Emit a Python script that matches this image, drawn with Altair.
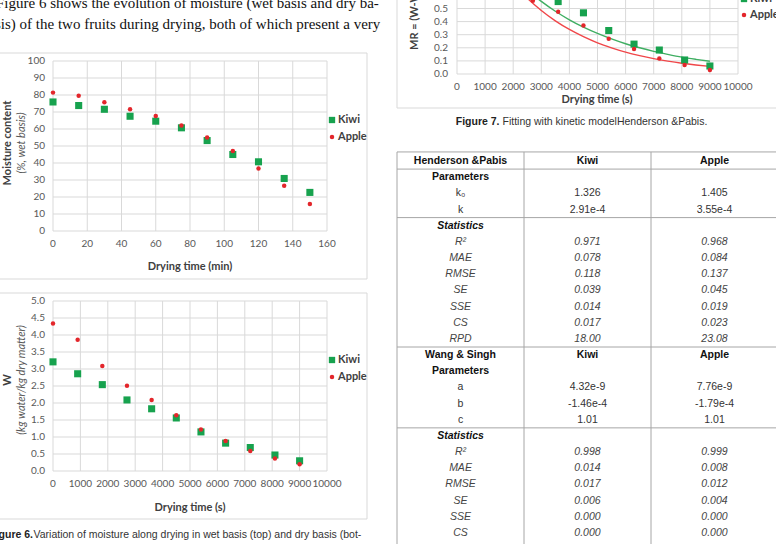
import altair as alt
import pandas as pd

# ---------------- data ----------------
para_lines = ["Figure 6 shows the evolution of moisture (wet basis and dry ba-",
              "sis) of the two fruits during drying, both of which present a very"]
fruits = ["Kiwi", "Apple"]

# Figure 6 (top): moisture, wet basis (%)
t_min = [0, 15, 30, 45, 60, 75, 90, 105, 120, 135, 150]
kiwi_wet = [75.9, 73.8, 71.6, 67.5, 64.6, 60.7, 53.2, 45.0, 40.7, 30.9, 22.7]
apple_wet = [81.4, 79.5, 75.7, 71.6, 67.7, 62.0, 55.0, 47.0, 36.8, 26.6, 15.9]

# Figure 6 (bottom): moisture, dry basis
t_s = [0, 900, 1800, 2700, 3600, 4500, 5400, 6300, 7200, 8100, 9000]
kiwi_dry = [3.21, 2.86, 2.54, 2.09, 1.83, 1.56, 1.15, 0.82, 0.69, 0.47, 0.30]
apple_dry = [4.34, 3.86, 3.09, 2.51, 2.09, 1.64, 1.22, 0.88, 0.59, 0.37, 0.20]

# Figure 7: moisture ratio + Henderson & Pabis fitted curves
kiwi_mr = [1.0, 0.89, 0.78, 0.64, 0.553, 0.467, 0.332, 0.228, 0.183, 0.107, 0.061]
apple_mr = [1.0, 0.88, 0.70, 0.56, 0.475, 0.371, 0.269, 0.190, 0.119, 0.069, 0.030]
t_fit = [0, 500, 1000, 1500, 2000, 2500, 3000, 3500, 4000, 4500, 5000,
         5500, 6000, 6500, 7000, 7500, 8000, 8500, 9000]
kiwi_fit = [1.326, 1.147, 0.991, 0.857, 0.741, 0.641, 0.554, 0.479, 0.414, 0.358,
            0.310, 0.268, 0.231, 0.200, 0.173, 0.150, 0.129, 0.112, 0.097]
apple_fit = [1.405, 1.177, 0.985, 0.825, 0.691, 0.579, 0.485, 0.406, 0.340, 0.285,
             0.238, 0.200, 0.167, 0.140, 0.117, 0.098, 0.082, 0.069, 0.058]

# axis ticks / labels
f6a_xticks = [0, 20, 40, 60, 80, 100, 120, 140, 160]
f6a_yticks = [0, 10, 20, 30, 40, 50, 60, 70, 80, 90, 100]
f6a_ylabels = ["0", "10", "20", "30", "40", "50", "60", "70", "80", "90", "100"]
s_xticks = [0, 1000, 2000, 3000, 4000, 5000, 6000, 7000, 8000, 9000, 10000]
s_xlabels = ["0", "1000", "2000", "3000", "4000", "5000", "6000", "7000", "8000", "9000", "10000"]
f6b_yticks = [0.0, 0.5, 1.0, 1.5, 2.0, 2.5, 3.0, 3.5, 4.0, 4.5, 5.0]
f6b_ylabels = ["0.0", "0.5", "1.0", "1.5", "2.0", "2.5", "3.0", "3.5", "4.0", "4.5", "5.0"]
f7_yticks = [0.0, 0.1, 0.2, 0.3, 0.4, 0.5, 0.6, 0.7, 0.8, 0.9, 1.0]
f7_ylabels = ["0.0", "0.1", "0.2", "0.3", "0.4", "0.5", "0.6", "0.7", "0.8", "0.9", "1.0"]

# Table
hp_title = "Henderson &Pabis"
ws_title = "Wang & Singh"
param_head = "Parameters"
stat_head = "Statistics"
hp_param_names = ["k\u2080", "k"]
hp_param_kiwi = ["1.326", "2.91e-4"]
hp_param_apple = ["1.405", "3.55e-4"]
stat_names = ["R\u00b2", "MAE", "RMSE", "SE", "SSE", "CS", "RPD"]
hp_stat_kiwi = ["0.971", "0.078", "0.118", "0.039", "0.014", "0.017", "18.00"]
hp_stat_apple = ["0.968", "0.084", "0.137", "0.045", "0.019", "0.023", "23.08"]
ws_param_names = ["a", "b", "c"]
ws_param_kiwi = ["4.32e-9", "-1.46e-4", "1.01"]
ws_param_apple = ["7.76e-9", "-1.79e-4", "1.01"]
ws_stat_kiwi = ["0.998", "0.014", "0.017", "0.006", "0.000", "0.000"]
ws_stat_apple = ["0.999", "0.008", "0.012", "0.004", "0.000", "0.000"]

# ---------------- style ----------------
KIWI_C = "#17A24E"
APPLE_C = "#E3262B"
KIWI_LINE = "#3FAE62"
APPLE_LINE = "#F04649"
GRID = "#D9D9D9"
BORDER = "#D9D9D9"
LBL = "#595959"
TTL = "#404040"
CF = "Lato"
SERIF = "Liberation Serif"
SANS = "Liberation Sans"


def one(**kw):
    return alt.Data(values=[dict(kw) if kw else {"k": 1}])


def vrect(x, x2, y, y2, **kw):
    return alt.Chart(one()).mark_rect(**kw).encode(
        x=alt.value(x), x2=alt.value(x2), y=alt.value(y), y2=alt.value(y2))


def vtext(txt, x, y, **kw):
    return alt.Chart(one(t=txt)).mark_text(clip=True, **kw).encode(
        x=alt.value(x), y=alt.value(y), text="t:N")


def vpoint(kind, x, y, color, size):
    c = alt.Chart(one())
    m = c.mark_square(color=color, size=size, opacity=1) if kind == "square" else \
        c.mark_circle(color=color, size=size, opacity=1)
    return m.encode(x=alt.value(x), y=alt.value(y))


def sc(dom, rng):
    return alt.Scale(domain=dom, range=rng, nice=False, zero=False)


def excel_panel(P):
    xs, ys = sc(P["xdom"], P["xr"]), sc(P["ydom"], P["yr"])
    X = lambda f: alt.X(f, scale=xs, axis=None)
    Y = lambda f: alt.Y(f, scale=ys, axis=None)
    L = [vrect(*P["border"], fill="white", fillOpacity=0, stroke=BORDER, strokeWidth=1)]
    vg = pd.DataFrame({"v": P["xticks"], "a": P["ydom"][0], "b": P["ydom"][1]})
    L.append(alt.Chart(vg).mark_rule(color=GRID, strokeWidth=1, clip=True).encode(
        x=X("v:Q"), y=Y("a:Q"), y2="b:Q"))
    hg = pd.DataFrame({"v": P["yticks"], "a": P["xdom"][0], "b": P["xdom"][1]})
    L.append(alt.Chart(hg).mark_rule(color=GRID, strokeWidth=1, clip=True).encode(
        y=Y("v:Q"), x=X("a:Q"), x2="b:Q"))
    if "fit" in P:
        tf, kf, af = P["fit"]
        fdf = pd.DataFrame({"t": tf * 2, "v": kf + af,
                            "Fruit": [fruits[0]] * len(tf) + [fruits[1]] * len(tf)})
        for fr, col in ((fruits[1], APPLE_LINE), (fruits[0], KIWI_LINE)):
            L.append(alt.Chart(fdf).transform_filter(alt.datum.Fruit == fr).mark_line(
                color=col, strokeWidth=1.4, clip=True, interpolate="monotone").encode(
                x=X("t:Q"), y=Y("v:Q")))
    xv, kv, av = P["series"]
    df = pd.DataFrame({"t": xv * 2, "v": kv + av,
                       "Fruit": [fruits[0]] * len(xv) + [fruits[1]] * len(xv)})
    L.append(alt.Chart(df).transform_filter(alt.datum.Fruit == fruits[0]).mark_square(
        color=KIWI_C, size=50, opacity=1, clip=True).encode(x=X("t:Q"), y=Y("v:Q")))
    L.append(alt.Chart(df).transform_filter(alt.datum.Fruit == fruits[1]).mark_circle(
        color=APPLE_C, size=20, opacity=1, clip=True).encode(x=X("t:Q"), y=Y("v:Q")))
    # tick labels
    xl = pd.DataFrame({"v": P["xticks"], "lab": P["xlabels"], "a": P["ydom"][0]})
    L.append(alt.Chart(xl).mark_text(font=CF, fontSize=10, color=LBL, dy=13, clip=True,
                                     baseline="middle", align="center").encode(
        x=X("v:Q"), y=Y("a:Q"), text="lab:N"))
    yl = pd.DataFrame({"v": P["yticks"], "lab": P["ylabels"], "a": P["xdom"][0]})
    L.append(alt.Chart(yl).mark_text(font=CF, fontSize=10, color=LBL, dx=P["ydx"], clip=True,
                                     baseline="middle", align="right").encode(
        x=X("a:Q"), y=Y("v:Q"), text="lab:N"))
    # axis titles
    tx, ty = P["xtitle_pos"]
    L.append(vtext(P["xtitle"], tx, ty, align="center", baseline="middle", font=CF,
                   fontSize=11, fontWeight="bold", color=TTL))
    for (txt, x, y, weight, style, color, align) in P["ytitles"]:
        L.append(vtext(txt, x, y, angle=270, align=align, baseline="middle", font=CF,
                       fontSize=11, fontWeight=weight, fontStyle=style, color=color))
    # legend
    lx, ly1, ly2 = P["legend"]
    L.append(vpoint("square", lx, ly1, KIWI_C, 40))
    L.append(vpoint("circle", lx, ly2, APPLE_C, 20))
    for name, ly in ((fruits[0], ly1), (fruits[1], ly2)):
        L.append(vtext(name, lx + 6, ly, align="left", baseline="middle", font=CF,
                       fontSize=11, fontWeight="bold", color=TTL))
    return L


layers = []

# ---- paragraph text (top left)
layers.append(vtext(para_lines[0], -4, 8, align="left", baseline="alphabetic",
                    font=SERIF, fontSize=15, color="#111111"))
layers.append(vtext(para_lines[1], -5, 29, align="left", baseline="alphabetic",
                    font=SERIF, fontSize=15, color="#111111"))

# ---- Figure 6 top
layers += excel_panel(dict(
    xdom=[0, 160], xr=[53, 327], ydom=[0, 100], yr=[231, 61],
    xticks=f6a_xticks, xlabels=[str(v) for v in f6a_xticks],
    yticks=f6a_yticks, ylabels=f6a_ylabels, ydx=-8,
    series=(t_min, kiwi_wet, apple_wet),
    border=(-2, 367, 53, 279),
    xtitle="Drying time (min)", xtitle_pos=(190, 267),
    ytitles=[("Moisture content", 7.5, 143, "bold", "normal", TTL, "center"),
             ("(%, wet basis)", 22, 143, "normal", "italic", LBL, "center")],
    legend=(332, 120, 137)))

# ---- Figure 6 bottom
layers += excel_panel(dict(
    xdom=[0, 10000], xr=[53, 327], ydom=[0, 5], yr=[471, 301],
    xticks=s_xticks, xlabels=s_xlabels,
    yticks=f6b_yticks, ylabels=f6b_ylabels, ydx=-8,
    series=(t_s, kiwi_dry, apple_dry),
    border=(-2, 367, 293, 519),
    xtitle="Drying time (s)", xtitle_pos=(190, 508),
    ytitles=[("W", 7.5, 380, "bold", "normal", TTL, "center"),
             ("(kg water/kg dry matter)", 22, 380, "normal", "italic", LBL, "center")],
    legend=(332, 360, 377)))

# ---- Figure 7 (partially visible, top right)
layers += excel_panel(dict(
    xdom=[0, 10000], xr=[457, 738], ydom=[0, 1], yr=[74, -57],
    xticks=s_xticks, xlabels=s_xlabels,
    yticks=f7_yticks, ylabels=f7_ylabels, ydx=-9,
    series=(t_s, kiwi_mr, apple_mr),
    fit=(t_fit, kiwi_fit, apple_fit),
    border=(397, 790, -80, 108),
    xtitle="Drying time (s)", xtitle_pos=(597, 100),
    ytitles=[("MR = (W-We)/(W0-We)", 415, 50, "bold", "normal", TTL, "left")],
    legend=(744, -1, 15)))

# ---- captions
layers.append(vtext("Figure 6.", 33, 535, align="right", baseline="middle", font=SANS,
                    fontSize=10.5, fontWeight="bold", color="#222222"))
layers.append(vtext("Variation of moisture along drying in wet basis (top) and dry basis (bot-",
                    33.5, 535, align="left", baseline="middle", font=SANS, fontSize=10.5,
                    color="#333333"))
layers.append(vtext("Figure 7.", 499.5, 122, align="right", baseline="middle", font=SANS,
                    fontSize=10.5, fontWeight="bold", color="#222222"))
layers.append(vtext("Fitting with kinetic modelHenderson &Pabis.", 502.5, 122, align="left",
                    baseline="middle", font=SANS, fontSize=10.5, color="#333333"))

# ---- table
rows = [(hp_title, fruits[0], fruits[1], "head"), (param_head, "", "", "bold")]
rows += [(n, k, a, "normal") for n, k, a in zip(hp_param_names, hp_param_kiwi, hp_param_apple)]
rows += [(stat_head, "", "", "bolditalic")]
rows += [(n, k, a, "italic") for n, k, a in zip(stat_names, hp_stat_kiwi, hp_stat_apple)]
rows += [(ws_title, fruits[0], fruits[1], "head"), (param_head, "", "", "bold")]
rows += [(n, k, a, "normal") for n, k, a in zip(ws_param_names, ws_param_kiwi, ws_param_apple)]
rows += [(stat_head, "", "", "bolditalic")]
rows += [(n, k, a, "italic") for n, k, a in zip(stat_names, ws_stat_kiwi, ws_stat_apple)]

recs = []
for i, (lab, k, a, st) in enumerate(rows):
    for c, txt in ((0.5, lab), (1.5, k), (2.5, a)):
        if txt:
            recs.append({"row": i, "col": c, "txt": txt,
                         "style": "bold" if st == "head" else st})
tdf = pd.DataFrame(recs)

txs = sc([0, 3], [397, 778])
tys = sc([0, 23], [161, 533])
TX = lambda f: alt.X(f, scale=txs, axis=None)
TY = lambda f: alt.Y(f, scale=tys, axis=None)

hlines = pd.DataFrame({"y": [-0.56, 0.5, 3.5, 11.5, 16.5], "a": [0] * 5, "b": [3] * 5})
vlines = pd.DataFrame({"x": [0, 1, 2, 3], "a": [-0.56] * 4, "b": [26] * 4})
LINE = "#A6A6A6"
layers.append(alt.Chart(hlines).mark_rule(color=LINE, strokeWidth=1, clip=True).encode(
    x=TX("a:Q"), x2="b:Q", y=TY("y:Q")))
layers.append(alt.Chart(vlines).mark_rule(color=LINE, strokeWidth=1, clip=True).encode(
    x=TX("x:Q"), y=TY("a:Q"), y2="b:Q"))
for st, fw, fs, col in [("bold", "bold", "normal", "#111111"),
                        ("bolditalic", "bold", "italic", "#111111"),
                        ("normal", "normal", "normal", "#333333"),
                        ("italic", "normal", "italic", "#444444")]:
    layers.append(alt.Chart(tdf).transform_filter(alt.datum.style == st).mark_text(
        font=SANS, fontSize=10.5, fontWeight=fw, fontStyle=fs, color=col, clip=True,
        align="center", baseline="middle").encode(
        x=TX("col:Q"), y=TY("row:Q"), text="txt:N"))

chart = alt.layer(*layers).resolve_scale(x="independent", y="independent").properties(
    width=776, height=544,
    autosize=alt.AutoSizeParams(type="none"),
    padding=0,
    background="white",
).configure_view(stroke=None)

chart.save("out.html", embed_options={"renderer": "svg", "actions": False})
